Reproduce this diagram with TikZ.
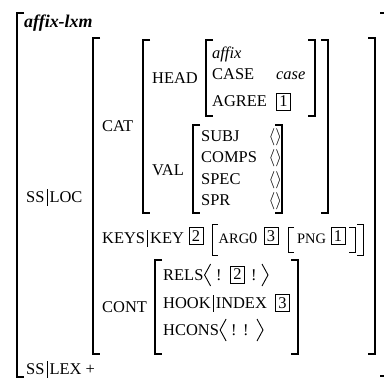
\documentclass[tikz,border=0pt]{standalone}
\usepackage{fontspec}
\setmainfont{Liberation Serif}
\usetikzlibrary{positioning}
\newcommand{\featbar}{\hspace{2.2bp}\rule[-3.5bp]{0.7bp}{16.5bp}\hspace{2.2bp}}
\tikzstyle{feat}=[anchor=base west, inner sep=0pt, font=\fontsize{16.5}{19}\selectfont]
\tikzstyle{atom}=[anchor=base west, inner sep=0pt, font=\fontsize{16.5}{19}\selectfont\itshape]
\tikzstyle{tag}=[draw, line width=0.6pt, inner sep=0pt, minimum width=14bp, minimum height=17bp, font=\fontsize{16.5}{19}\selectfont]
\tikzstyle{brk}=[line width=1.5pt]
\tikzstyle{sbrk}=[line width=0.9pt]

\begin{document}
\begin{tikzpicture}[x=1bp, y=-1bp]

  \useasboundingbox (0,0) rectangle (384,379);

  % left and right brackets: x / top / bottom
  \foreach \x/\ya/\yb in {17/13/377, 93/38/354, 143/40/213, 206/40/116, 193/125/213, 155/260/354}
    \draw[brk] (\x+7,\ya) -- (\x,\ya) -- (\x,\yb) -- (\x+7,\yb);
  \foreach \x/\ya/\yb in {387/13/376, 375/38/354, 328/40/213, 315/40/116, 282/125/213, 298/260/354}
    \draw[brk] (\x-7,\ya) -- (\x,\ya) -- (\x,\yb) -- (\x-7,\yb);

  % type and top features
  \node[atom, font=\fontsize{18}{21}\selectfont\bfseries\itshape] (type) at (24,27) {affix-lxm};
  \node[feat] (ssloc) at (26,202) {SS\featbar LOC};
  \node[feat] (sslex) at (26,374) {SS\featbar LEX +};
  \node[feat] (cat) at (102,131) {CAT};
  \node[feat] (keys) at (102,243) {KEYS\featbar KEY};
  \node[feat] (cont) at (102,312) {CONT};

  % CAT
  \node[feat] (head) at (152,83) {HEAD};
  \node[feat] (val) at (152,175) {VAL};
  \node[atom] (headtype) at (212,58) {affix};
  \node[feat] (case) at (212,79) {CASE};
  \node[atom] (caseval) at (276,79) {case};
  \node[feat] (agree) at (212,106) {AGREE};
  \node[tag] (agreetag) at (283.5,101.5) {1};

  \foreach \name/\y in {SUBJ/141, COMPS/162, SPEC/184, SPR/205}
    \node[feat] (\name) at (201,\y) {\name};
  \foreach \name/\y in {SUBJ/141, COMPS/162, SPEC/184, SPR/205}
    \node[feat] (\name-list) at (268.5,\y) {$\langle\rangle$};

  % KEYS|KEY
  \node[tag] (keytag) at (196,236) {2};
  \draw[sbrk] (218,224) -- (212,224) -- (212,255) -- (218,255);
  \node[feat] (arg) at (218.5,243) {{\fontsize{14.5}{16}\selectfont ARG}0};
  \node[tag] (argtag) at (271,236) {3};
  \draw[sbrk] (294,227) -- (288,227) -- (288,252) -- (294,252);
  \node[feat] (png) at (297,243) {\fontsize{14.5}{16}\selectfont PNG};
  \node[tag] (pngtag) at (338,236) {1};
  \draw[sbrk] (349,227) -- (355,227) -- (355,252) -- (349,252);
  \draw[sbrk] (357,224) -- (363,224) -- (363,255) -- (357,255);

  % CONT
  \node[feat] (rels) at (163,280) {RELS};
  \draw[sbrk] ([shift={(7,-16)}]rels.base east) -- ([shift={(1,-5)}]rels.base east) -- ([shift={(7,6)}]rels.base east);
  \node[feat] (bang1) at (216,280) {!};
  \node[tag] (relstag) at (237.5,274.5) {2};
  \node[feat] (bang2) at (251,280) {!};
  \draw[sbrk] (262,264) -- (268,275) -- (262,286);

  \node[feat] (hook) at (163,308) {HOOK\featbar INDEX};
  \node[tag] (hooktag) at (282.5,303) {3};

  \node[feat] (hcons) at (163,335) {HCONS};
  \draw[sbrk] ([shift={(7,-16)}]hcons.base east) -- ([shift={(1,-5)}]hcons.base east) -- ([shift={(7,6)}]hcons.base east);
  \node[feat] (bang3) at (231,335) {!};
  \node[feat] (bang4) at (243,335) {!};
  \draw[sbrk] (257,319) -- (263,330) -- (257,341);

\end{tikzpicture}
\end{document}
